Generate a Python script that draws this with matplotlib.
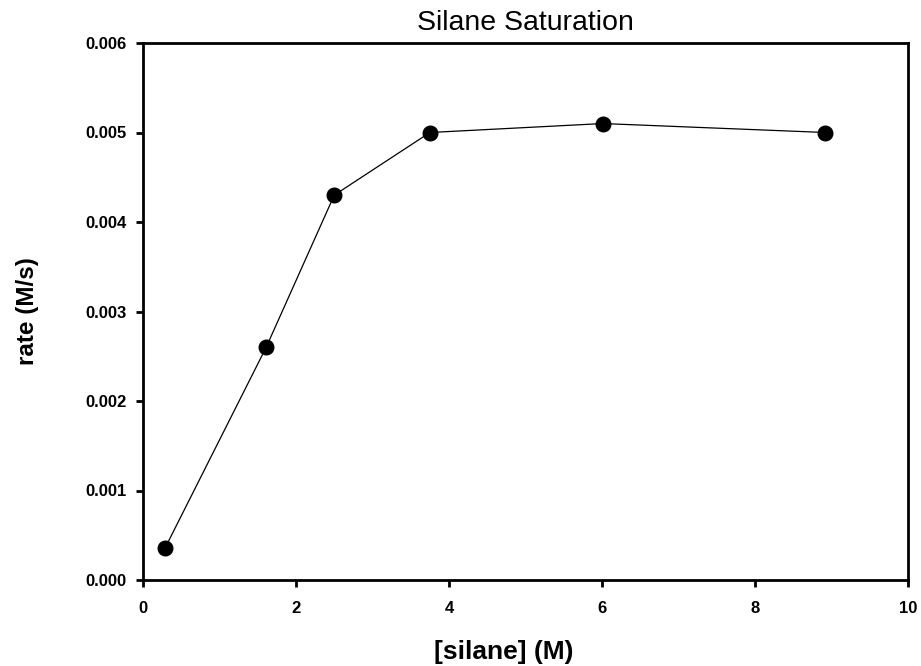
import matplotlib
matplotlib.use("Agg")
import matplotlib.pyplot as plt

silane = [0.29, 1.61, 2.50, 3.75, 6.01, 8.92]
rate = [0.00036, 0.0026, 0.0043, 0.0050, 0.0051, 0.0050]
xticks = [0, 2, 4, 6, 8, 10]
yticks = [0.000, 0.001, 0.002, 0.003, 0.004, 0.005, 0.006]

plt.rcParams['font.family'] = ['Liberation Sans', 'DejaVu Sans']

fig = plt.figure(figsize=(9.21, 6.66), dpi=100)
ax = fig.add_axes([143/921, 1-580/666, (908-143)/921, (580-43)/666])

ax.plot(silane, rate, color='black', lw=0.9, marker='o', markersize=10.5,
        markerfacecolor='black', markeredgecolor='black', clip_on=False, zorder=3)

ax.set_xlim(0, 10)
ax.set_ylim(0, 0.006)
ax.set_xticks(xticks)
ax.set_xticklabels([str(v) for v in xticks])
ax.set_yticks(yticks)
ax.set_yticklabels([f"{v:.3f}" for v in yticks])

for s in ax.spines.values():
    s.set_linewidth(2)
ax.tick_params(direction='out', length=5, width=2, labelsize=12, pad=7,
               top=False, right=False)
ax.tick_params(axis='x', pad=10)
for lab in ax.get_xticklabels() + ax.get_yticklabels():
    lab.set_fontweight('bold')

ax.set_xlabel('[silane] (M)', fontsize=19, fontweight='bold')
ax.xaxis.set_label_coords((504-143)/(908-143), -(652-580)/(580-43))
ax.xaxis.label.set_va('center')
ax.set_ylabel('rate (M/s)', fontsize=17.5, fontweight='bold')
ax.yaxis.set_label_coords(-(143-27)/(908-143), (580-311)/(580-43))
ax.yaxis.label.set_va('center')
ax.set_title('Silane Saturation', fontsize=20.5, pad=9)

fig.savefig('out.png', dpi=100)
